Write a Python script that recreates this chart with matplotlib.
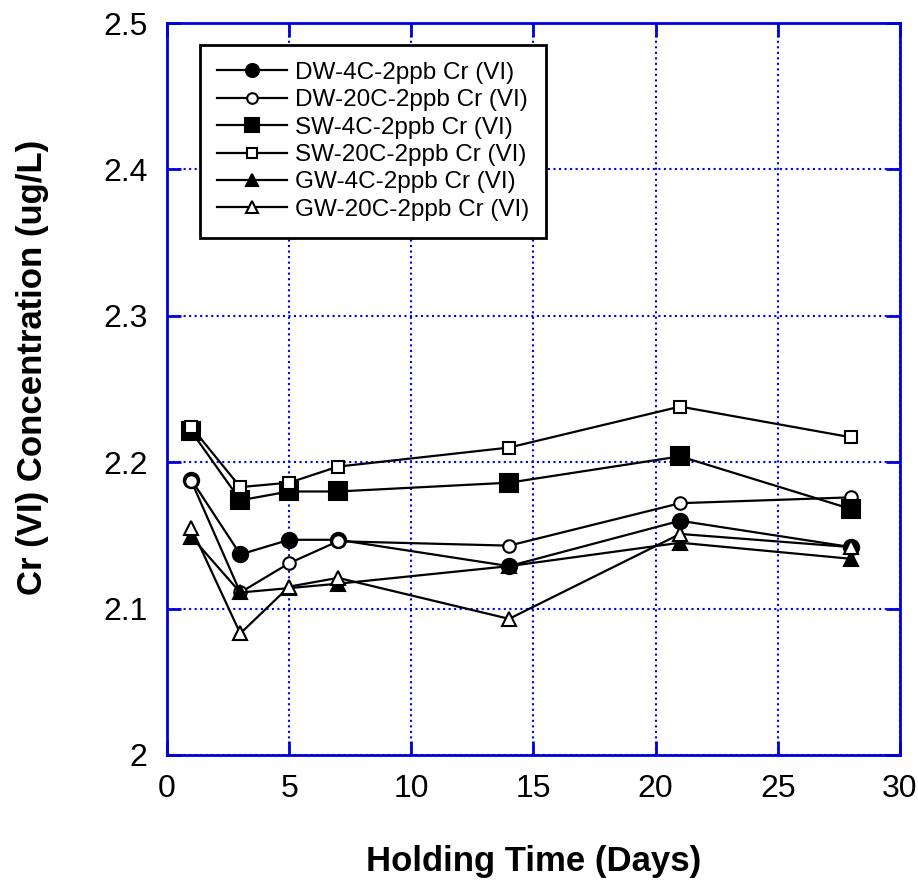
import matplotlib
matplotlib.use("Agg")
import matplotlib.pyplot as plt

plt.rcParams['font.family'] = ['Liberation Sans', 'DejaVu Sans']

days = [1, 3, 5, 7, 14, 21, 28]

dw_4c = [2.188, 2.137, 2.147, 2.147, 2.129, 2.160, 2.142]
dw_20c = [2.187, 2.111, 2.131, 2.146, 2.143, 2.172, 2.176]
sw_4c = [2.221, 2.174, 2.180, 2.180, 2.186, 2.204, 2.168]
sw_20c = [2.224, 2.183, 2.186, 2.197, 2.210, 2.238, 2.217]
gw_4c = [2.149, 2.111, 2.114, 2.117, 2.129, 2.145, 2.134]
gw_20c = [2.155, 2.083, 2.115, 2.121, 2.093, 2.151, 2.142]

series = [
    ('DW-4C-2ppb Cr (VI)', dw_4c, 'o', 'black', 11),
    ('DW-20C-2ppb Cr (VI)', dw_20c, 'o', 'white', 9),
    ('SW-4C-2ppb Cr (VI)', sw_4c, 's', 'black', 12.5),
    ('SW-20C-2ppb Cr (VI)', sw_20c, 's', 'white', 9),
    ('GW-4C-2ppb Cr (VI)', gw_4c, '^', 'black', 10),
    ('GW-20C-2ppb Cr (VI)', gw_20c, '^', 'white', 10),
]

fig = plt.figure(figsize=(9.18, 8.85), dpi=100)
ax = fig.add_axes([0.1819, 0.1469, 0.7985, 0.8271])

for name, vals, mk, face, ms in series:
    ax.plot(days, vals, color='black', lw=1.6, marker=mk, ms=ms,
            markerfacecolor=face, markeredgecolor='black', markeredgewidth=1.5,
            label=name)

ax.set_xlim(0, 30)
ax.set_ylim(2.0, 2.5)
ax.set_xticks([0, 5, 10, 15, 20, 25, 30])
ax.set_yticks([2.0, 2.1, 2.2, 2.3, 2.4, 2.5])
ax.set_yticklabels(['2', '2.1', '2.2', '2.3', '2.4', '2.5'])
ax.grid(True, color='#0000ee', linestyle=':', linewidth=1.5)
for s in ax.spines.values():
    s.set_color('#0000dd')
    s.set_linewidth(2)
ax.tick_params(direction='in', length=10, width=2, color='#0000dd',
               labelsize=23, top=True, right=True, pad=14)

ax.set_xlabel('Holding Time (Days)', fontsize=25, fontweight='bold')
ax.set_ylabel('Cr (VI) Concentration (ug/L)', fontsize=25, fontweight='bold')
ax.xaxis.set_label_coords(0.5, -0.146)
ax.xaxis.label.set_va('center')
ax.yaxis.set_label_coords(-0.183, 0.53)
ax.yaxis.label.set_va('center')

leg = ax.legend(loc='upper left', bbox_to_anchor=(0.045, 0.970), borderaxespad=0,
                fontsize=17.5, handlelength=2.9, fancybox=False, framealpha=1,
                edgecolor='black', borderpad=0.7, labelspacing=0.22,
                markerscale=0.85, handletextpad=0.3)
leg.get_frame().set_linewidth(2)

fig.savefig('out.png', dpi=100)
